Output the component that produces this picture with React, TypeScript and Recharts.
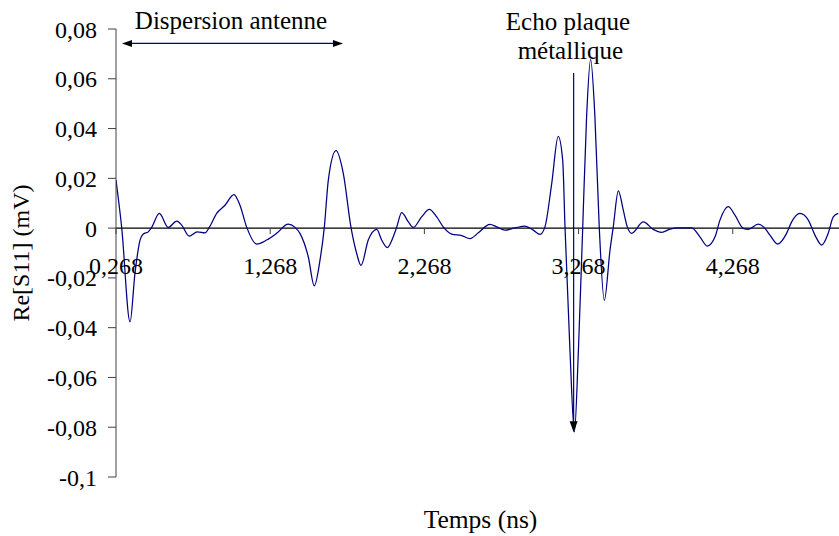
import React from 'react';
import { LineChart, Line, XAxis, YAxis, ReferenceLine, ReferenceDot } from 'recharts';

const FONT = "'Liberation Serif', 'Times New Roman', serif";

// Time (ns)
const times = [
  0.268, 0.305, 0.359, 0.391, 0.424, 0.445, 0.477, 0.4995, 0.549, 0.607,
  0.662, 0.694, 0.743, 0.795, 0.845, 0.873, 0.921, 0.975, 1.033, 1.072,
  1.116, 1.18, 1.245, 1.31, 1.385, 1.429, 1.461, 1.515, 1.554, 1.591,
  1.619, 1.645, 1.695, 1.742, 1.792, 1.829, 1.857, 1.904, 1.959, 1.991,
  2.027, 2.066, 2.088, 2.121, 2.164, 2.196, 2.25, 2.3, 2.348, 2.39,
  2.445, 2.51, 2.564, 2.618, 2.693, 2.737, 2.791, 2.856, 2.92, 2.974,
  3.018, 3.05, 3.094, 3.136, 3.165, 3.18, 3.212, 3.241, 3.267, 3.295,
  3.32, 3.346, 3.374, 3.402, 3.435, 3.472, 3.493, 3.526, 3.558, 3.584,
  3.612, 3.688, 3.752, 3.807, 3.861, 3.915, 4.001, 4.055, 4.103, 4.153,
  4.185, 4.239, 4.282, 4.336, 4.369, 4.433, 4.477, 4.509, 4.559, 4.617,
  4.65, 4.704, 4.758, 4.801, 4.845, 4.887, 4.92, 4.952,
];

// Re[S11] (mV)
const reS11 = [
  0.0193, 0.0002, -0.0377, -0.0182, -0.0048, -0.0024, -0.0015, 0.0003, 0.0059, 0.0003,
  0.0028, 0.0012, -0.0032, -0.0015, -0.0019, 0.0003, 0.0059, 0.0092, 0.0135, 0.0092,
  0.0003, -0.0064, -0.0048, -0.0021, 0.0016, 0.0003, -0.0021, -0.0115, -0.0232, -0.0129,
  0.0003, 0.0193, 0.0311, 0.022, 0.0003, -0.0102, -0.015, -0.0048, -0.0005, -0.0048,
  -0.0078, -0.0035, 0.0003, 0.0062, 0.0025, 0.0003, 0.0045, 0.0075, 0.0045, 0.0005,
  -0.0024, -0.003, -0.0042, -0.0019, 0.0015, 0.0005, -0.0008, 0.0001, 0.0008, -0.0008,
  -0.0025, 0.0005, 0.018, 0.0369, 0.0273, 0.0005, -0.049, -0.0819, -0.049, 0.0005,
  0.0447, 0.0678, 0.0447, 0.0005, -0.029, -0.0088, 0.0005, 0.015, 0.0072, 0.0005,
  -0.0021, 0.0025, -0.0005, -0.0017, -0.0004, 0.0001, 0.0001, -0.0035, -0.0072, -0.0035,
  0.0032, 0.0086, 0.0052, -0.0001, -0.0005, 0.0016, -0.0001, -0.0028, -0.0064, -0.0021,
  0.0025, 0.0059, 0.0032, -0.0028, -0.0068, -0.0021, 0.0045, 0.0059,
];

const xTicks = [0.268, 1.268, 2.268, 3.268, 4.268];
const xTickLabels = ['0,268', '1,268', '2,268', '3,268', '4,268'];
const yTicks = [-0.1, -0.08, -0.06, -0.04, -0.02, 0, 0.02, 0.04, 0.06, 0.08];

const X_MIN = 0.268;
const X_MAX = 4.957;

// Annotations (data coordinates)
const dispersionArrow = { from: 0.307, to: 1.74, y: 0.0742 };
const echoArrow = { x: 3.236, top: 0.0623, tip: -0.082 };
const annotations = [
  { text: 'Dispersion antenne', x: 1.014, y: 0.08 },
  { text: 'Echo plaque', x: 3.199, y: 0.0796 },
  { text: 'métallique', x: 3.215, y: 0.0679 },
];

const data = times.map((t, i) => ({ t, v: reS11[i] }));

const fmtY = (v: number) => String(Number(v.toFixed(2))).replace('.', ',');

const NAVY = '#000080';

const DoubleArrow = (p: any) => {
  const { x1, y1, x2 } = p;
  const L = 10;
  const H = 3.5;
  return (
    <g>
      <line x1={x1 + L} y1={y1} x2={x2 - L} y2={y1} stroke={NAVY} strokeWidth={1.2} />
      <polygon points={`${x1},${y1} ${x1 + L},${y1 - H} ${x1 + L},${y1 + H}`} fill="#000" />
      <polygon points={`${x2},${y1} ${x2 - L},${y1 - H} ${x2 - L},${y1 + H}`} fill="#000" />
    </g>
  );
};

const DownArrow = (p: any) => {
  const { x1, y1, y2 } = p;
  const L = 11;
  const H = 4;
  return (
    <g>
      <line x1={x1} y1={y1} x2={x1} y2={y2 - L} stroke={NAVY} strokeWidth={1.2} />
      <polygon points={`${x1},${y2} ${x1 - H},${y2 - L} ${x1 + H},${y2 - L}`} fill="#000" />
    </g>
  );
};

export default function App() {
  return (
    <div style={{ position: 'absolute', left: 0, top: 0, width: 839, height: 536, background: '#fff' }}>
      <LineChart width={839} height={536} data={data} margin={{ top: 29, right: 0, bottom: 0, left: 0 }}>
        <XAxis
          dataKey="t"
          type="number"
          domain={[X_MIN, X_MAX]}
          allowDataOverflow
          height={59}
          axisLine={false}
          tickLine={false}
          tick={false}
          label={{
            content: (props: any) => {
              const vb = props.viewBox;
              return (
                <text
                  x={vb.x + vb.width / 2 + 3}
                  y={vb.y + vb.height - 8}
                  textAnchor="middle"
                  fill="#000"
                  fontSize={25.5}
                  fontFamily={FONT}
                >
                  Temps (ns)
                </text>
              );
            },
          }}
        />
        <YAxis
          type="number"
          domain={[-0.1, 0.08]}
          ticks={yTicks}
          width={116}
          interval={0}
          tickFormatter={fmtY}
          tickSize={8}
          tickMargin={11}
          axisLine={{ stroke: '#404040' }}
          tickLine={{ stroke: '#404040' }}
          tick={{ fill: '#000', fontSize: 24, fontFamily: FONT }}
          label={{
            content: (props: any) => {
              const vb = props.viewBox;
              const cx = 21;
              const cy = vb.y + vb.height / 2;
              return (
                <text
                  x={cx}
                  y={cy}
                  dy="0.35em"
                  transform={`rotate(-90, ${cx}, ${cy})`}
                  textAnchor="middle"
                  fill="#000"
                  fontSize={24}
                  fontFamily={FONT}
                >
                  Re[S11] (mV)
                </text>
              );
            },
          }}
        />
        <ReferenceLine y={0} stroke="#000" strokeWidth={1.2} />
        {xTicks.map((t) => (
          <ReferenceLine
            key={'tm' + t}
            segment={[{ x: t, y: 0 }, { x: t, y: -0.0024 }]}
            stroke="#404040"
            strokeWidth={1}
          />
        ))}
        {xTicks.map((t, i) => (
          <ReferenceDot
            key={'tl' + t}
            x={t}
            y={0}
            r={0}
            ifOverflow="visible"
            shape={(p: any) => (
              <text x={p.cx} y={p.cy + 46} textAnchor="middle" fill="#000" fontSize={24} fontFamily={FONT}>
                {xTickLabels[i]}
              </text>
            )}
          />
        ))}
        <Line
          type="monotone"
          dataKey="v"
          stroke={NAVY}
          strokeWidth={1.25}
          dot={false}
          activeDot={false}
          isAnimationActive={false}
        />
        <ReferenceLine
          segment={[{ x: dispersionArrow.from, y: dispersionArrow.y }, { x: dispersionArrow.to, y: dispersionArrow.y }]}
          ifOverflow="visible"
          shape={DoubleArrow}
        />
        <ReferenceLine
          segment={[{ x: echoArrow.x, y: echoArrow.top }, { x: echoArrow.x, y: echoArrow.tip }]}
          ifOverflow="visible"
          shape={DownArrow}
        />
        {annotations.map((a) => (
          <ReferenceDot
            key={a.text}
            x={a.x}
            y={a.y}
            r={0}
            ifOverflow="visible"
            shape={(p: any) => (
              <text x={p.cx} y={p.cy} textAnchor="middle" fill="#000" fontSize={25} fontFamily={FONT}>
                {a.text}
              </text>
            )}
          />
        ))}
      </LineChart>
    </div>
  );
}
